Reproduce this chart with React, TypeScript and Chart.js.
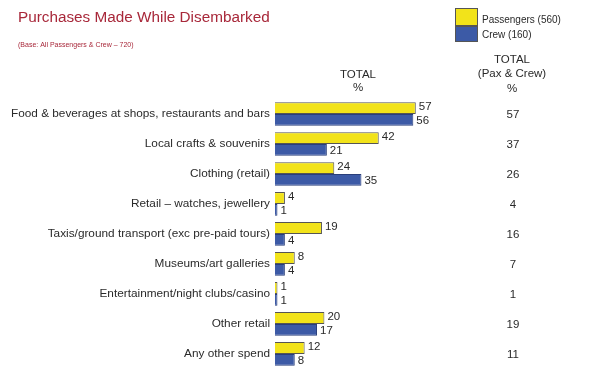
import React, { useEffect, useRef } from "react";
import { Chart, registerables } from "chart.js";

Chart.register(...registerables);

const categories = [
  "Food & beverages at shops, restaurants and bars",
  "Local crafts & souvenirs",
  "Clothing (retail)",
  "Retail – watches, jewellery",
  "Taxis/ground transport (exc pre-paid tours)",
  "Museums/art galleries",
  "Entertainment/night clubs/casino",
  "Other retail",
  "Any other spend",
];
const passengers = [57, 42, 24, 4, 19, 8, 1, 20, 12];
const crew = [56, 21, 35, 1, 4, 4, 1, 17, 8];
const totals = [57, 37, 26, 4, 16, 7, 1, 19, 11];

const FONT = "'Liberation Sans', Arial, Helvetica, sans-serif";
const YELLOW = "#F2E31A";
const BLUE = "#3C5AA6";
const RED = "#A8283A";
const TEXT = "#2a2a2a";

const overlay = {
  id: "overlay",
  afterDatasetsDraw(chart: any) {
    const ctx = chart.ctx;
    ctx.save();
    // title
    ctx.fillStyle = RED;
    ctx.textAlign = "left";
    ctx.textBaseline = "middle";
    ctx.font = `15.3px ${FONT}`;
    ctx.fillText("Purchases Made While Disembarked", 18, 18);
    ctx.font = `7px ${FONT}`;
    ctx.fillText("(Base: All Passengers & Crew – 720)", 18, 45);

    // legend
    ctx.fillStyle = YELLOW;
    ctx.fillRect(455, 8, 23, 18);
    ctx.fillStyle = BLUE;
    ctx.fillRect(455, 26, 23, 16);
    ctx.strokeStyle = "#555";
    ctx.lineWidth = 1;
    ctx.strokeRect(455.5, 8.5, 22, 17);
    ctx.strokeRect(455.5, 26.5, 22, 15);
    ctx.fillStyle = TEXT;
    ctx.font = `10px ${FONT}`;
    ctx.fillText("Passengers (560)", 482, 20);
    ctx.fillText("Crew (160)", 482, 35);

    // headers
    ctx.textAlign = "center";
    ctx.font = `11.5px ${FONT}`;
    ctx.fillText("TOTAL", 358, 75);
    ctx.fillText("%", 358, 88);
    ctx.fillText("TOTAL", 512, 60);
    ctx.fillText("(Pax & Crew)", 512, 74);
    ctx.fillText("%", 512, 89);

    // value labels
    ctx.font = `11.5px ${FONT}`;
    ctx.textAlign = "left";
    chart.data.datasets.forEach((ds: any, di: number) => {
      const meta = chart.getDatasetMeta(di);
      meta.data.forEach((bar: any, i: number) => {
        ctx.fillText(String(ds.data[i]), bar.x + 3, bar.y + (di === 0 ? -1 : 1));
      });
    });

    // totals column
    ctx.textAlign = "center";
    ctx.font = `11.5px ${FONT}`;
    const yScale = chart.scales.y;
    totals.forEach((t, i) => {
      ctx.fillText(String(t), 513, yScale.getPixelForValue(i) + 1);
    });
    ctx.restore();
  },
};

export default function App() {
  const ref = useRef<HTMLCanvasElement>(null);
  useEffect(() => {
    document.body.style.margin = "0";
    const chart = new Chart(ref.current!, {
      type: "bar",
      data: {
        labels: categories,
        datasets: [
          {
            label: "Passengers (560)",
            data: passengers,
            backgroundColor: YELLOW,
            borderColor: "#555",
            borderWidth: 1,
            barPercentage: 1,
            categoryPercentage: 0.79,
          },
          {
            label: "Crew (160)",
            data: crew,
            backgroundColor: BLUE,
            borderColor: "#2a3f7a",
            borderWidth: 1,
            barPercentage: 1,
            categoryPercentage: 0.79,
          },
        ],
      },
      options: {
        indexAxis: "y",
        animation: false,
        responsive: false,
        maintainAspectRatio: false,
        layout: { padding: { top: 99, bottom: 8, left: 0, right: 85 } },
        plugins: {
          legend: { display: false },
          title: { display: false },
          tooltip: { enabled: false },
        },
        scales: {
          x: {
            min: 0,
            max: 100,
            display: false,
            grid: { display: false },
          },
          y: {
            grid: { display: false, drawTicks: false, tickLength: 0 },
            border: { display: false },
            ticks: {
              color: TEXT,
              padding: 5,
              font: { family: FONT, size: 11.8 },
              autoSkip: false,
            },
            afterFit(scale: any) {
              scale.width = 275;
            },
          },
        },
      },
      plugins: [overlay],
    });
    return () => chart.destroy();
  }, []);
  return (
    <div style={{ width: 607, height: 368, overflow: "hidden", background: "#fff" }}>
      <canvas ref={ref} width={607} height={381} style={{ display: "block" }} />
    </div>
  );
}
